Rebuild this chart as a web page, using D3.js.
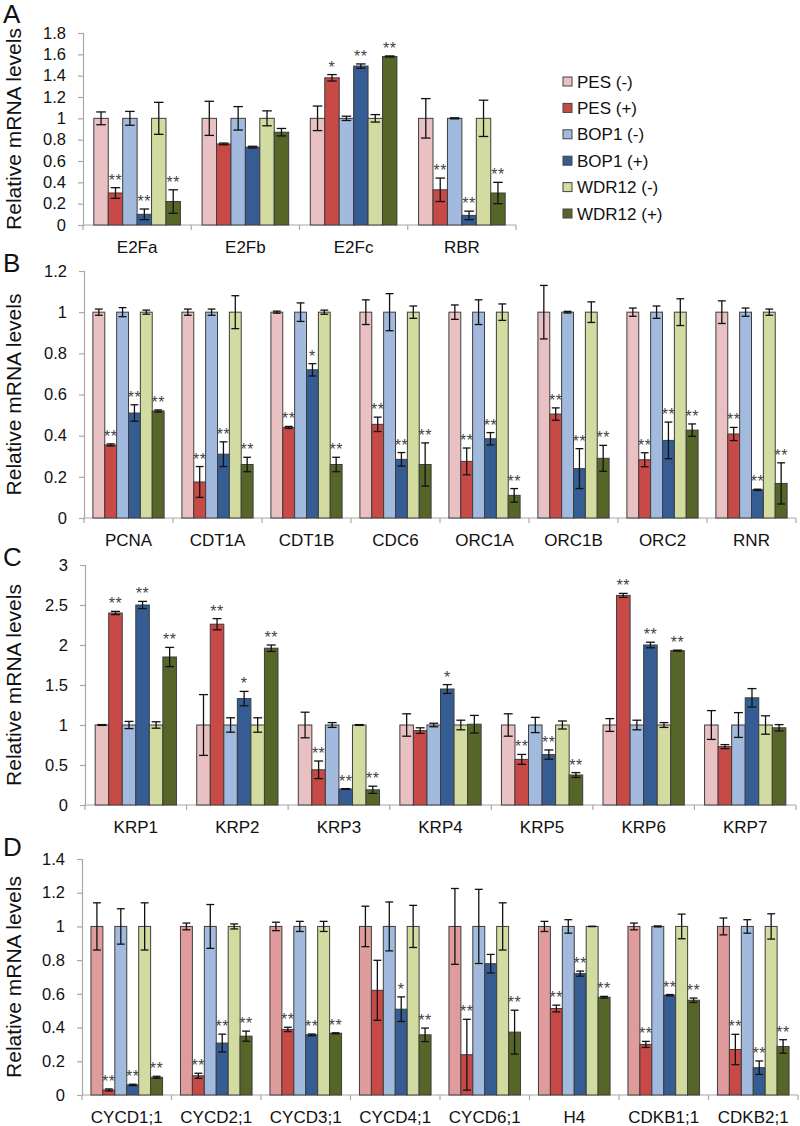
<!DOCTYPE html>
<html>
<head>
<meta charset="utf-8">
<script src="https://cdn.jsdelivr.net/npm/d3@7"></script>
<style>
  html, body { margin: 0; padding: 0; background: #fff; }
  svg { display: block; font-family: "Liberation Sans", Arial, Helvetica, sans-serif; }
</style>
</head>
<body>
<svg id="chart" width="800" height="1126"></svg>
<script>
// ---------- data ----------
const seriesNames = ["PES (-)", "PES (+)", "BOP1 (-)", "BOP1 (+)", "WDR12 (-)", "WDR12 (+)"];
const seriesColors = ["#e9c1c2", "#c84a47", "#a3badf", "#365d93", "#d3dca0", "#566628"];

// Panel A
const aCategories = ["E2Fa", "E2Fb", "E2Fc", "RBR"];
const aValues = [
  [1, 0.30, 1, 0.10, 1, 0.22],
  [1, 0.76, 1, 0.73, 1, 0.87],
  [1, 1.38, 1, 1.49, 1, 1.58],
  [1, 0.33, 1, 0.09, 1, 0.30]
];
const aErrors = [
  [0.06, 0.05, 0.065, 0.05, 0.15, 0.11],
  [0.16, 0.008, 0.11, 0.008, 0.07, 0.035],
  [0.115, 0.03, 0.02, 0.02, 0.035, 0.005],
  [0.185, 0.11, 0.005, 0.04, 0.17, 0.10]
];
const aSig = [
  ["", "**", "", "**", "", "**"],
  ["", "", "", "", "", ""],
  ["", "*", "", "**", "", "**"],
  ["", "**", "", "**", "", "**"]
];
const aTicks = ["0", "0.2", "0.4", "0.6", "0.8", "1", "1.2", "1.4", "1.6", "1.8"];

// Panel B
const bCategories = ["PCNA", "CDT1A", "CDT1B", "CDC6", "ORC1A", "ORC1B", "ORC2", "RNR"];
const bValues = [
  [1, 0.355, 1, 0.51, 1, 0.52],
  [1, 0.175, 1, 0.31, 1, 0.26],
  [1, 0.44, 1, 0.72, 1, 0.26],
  [1, 0.455, 1, 0.285, 1, 0.26],
  [1, 0.275, 1, 0.385, 1, 0.11],
  [1, 0.505, 1, 0.24, 1, 0.29],
  [1, 0.283, 1, 0.377, 1, 0.427],
  [1, 0.408, 1, 0.137, 1, 0.168]
];
const bErrors = [
  [0.015, 0.005, 0.022, 0.04, 0.01, 0.005],
  [0.015, 0.075, 0.015, 0.06, 0.08, 0.035],
  [0.005, 0.005, 0.045, 0.03, 0.01, 0.035],
  [0.06, 0.035, 0.09, 0.033, 0.03, 0.105],
  [0.035, 0.065, 0.06, 0.03, 0.04, 0.033],
  [0.13, 0.03, 0.004, 0.097, 0.05, 0.063],
  [0.02, 0.034, 0.03, 0.089, 0.065, 0.03],
  [0.055, 0.032, 0.02, 0.003, 0.015, 0.1]
];
const bSig = [
  ["", "**", "", "**", "", "**"],
  ["", "**", "", "**", "", "**"],
  ["", "**", "", "*", "", "**"],
  ["", "**", "", "**", "", "**"],
  ["", "**", "", "**", "", "**"],
  ["", "**", "", "**", "", "**"],
  ["", "**", "", "**", "", "**"],
  ["", "**", "", "**", "", "**"]
];
const bTicks = ["0", "0.2", "0.4", "0.6", "0.8", "1", "1.2"];

// Panel C
const cCategories = ["KRP1", "KRP2", "KRP3", "KRP4", "KRP5", "KRP6", "KRP7"];
const cValues = [
  [1, 2.40, 1, 2.50, 1, 1.85],
  [1, 2.26, 1, 1.33, 1, 1.96],
  [1, 0.44, 1, 0.20, 1, 0.19],
  [1, 0.93, 1, 1.45, 1, 1.01],
  [1, 0.57, 1, 0.63, 1, 0.375],
  [1, 2.62, 1, 2.00, 1, 1.93],
  [1, 0.73, 1, 1.34, 1, 0.965]
];
const cErrors = [
  [0.005, 0.02, 0.045, 0.045, 0.04, 0.12],
  [0.38, 0.07, 0.09, 0.09, 0.09, 0.04],
  [0.16, 0.11, 0.03, 0.005, 0.005, 0.045],
  [0.14, 0.035, 0.022, 0.055, 0.06, 0.11],
  [0.14, 0.062, 0.095, 0.058, 0.05, 0.03],
  [0.08, 0.025, 0.06, 0.035, 0.03, 0.006],
  [0.18, 0.025, 0.155, 0.115, 0.115, 0.04]
];
const cSig = [
  ["", "**", "", "**", "", "**"],
  ["", "**", "", "*", "", "**"],
  ["", "**", "", "**", "", "**"],
  ["", "", "", "*", "", ""],
  ["", "**", "", "**", "", "**"],
  ["", "**", "", "**", "", "**"],
  ["", "", "", "", "", ""]
];
const cTicks = ["0", "0.5", "1", "1.5", "2", "2.5", "3"];

// Panel D
const dCategories = ["CYCD1;1", "CYCD2;1", "CYCD3;1", "CYCD4;1", "CYCD6;1", "H4", "CDKB1;1", "CDKB2;1"];
const dValues = [
  [1, 0.03, 1, 0.06, 1, 0.105],
  [1, 0.114, 1, 0.308, 1, 0.349],
  [1, 0.389, 1, 0.357, 1, 0.366],
  [1, 0.621, 1, 0.509, 1, 0.357],
  [1, 0.239, 1, 0.779, 1, 0.373],
  [1, 0.513, 1, 0.72, 1, 0.58],
  [1, 0.30, 1, 0.592, 1, 0.562],
  [1, 0.27, 1, 0.162, 1, 0.288]
];
const dErrors = [
  [0.14, 0.006, 0.105, 0.004, 0.14, 0.006],
  [0.02, 0.015, 0.13, 0.053, 0.015, 0.03],
  [0.025, 0.013, 0.03, 0.005, 0.03, 0.003],
  [0.12, 0.178, 0.145, 0.073, 0.125, 0.04],
  [0.225, 0.21, 0.22, 0.055, 0.14, 0.13],
  [0.03, 0.02, 0.04, 0.015, 0.001, 0.005],
  [0.02, 0.018, 0.003, 0.004, 0.073, 0.013],
  [0.05, 0.09, 0.04, 0.04, 0.075, 0.04]
];
const dSig = [
  ["", "**", "", "**", "", "**"],
  ["", "**", "", "**", "", "**"],
  ["", "**", "", "**", "", "**"],
  ["", "", "", "*", "", "**"],
  ["", "**", "", "", "", "**"],
  ["", "**", "", "**", "", "**"],
  ["", "**", "", "**", "", "**"],
  ["", "**", "", "**", "", "**"]
];
const dTicks = ["0", "0.2", "0.4", "0.6", "0.8", "1", "1.2", "1.4"];

// ---------- layout ----------
const panels = [
  { letter: "A", cats: aCategories, vals: aValues, errs: aErrors, sig: aSig, ticks: aTicks,
    x0: 83, x1: 516, yTop: 33, yBot: 225, letterY: 23, colors: seriesColors },
  { letter: "B", cats: bCategories, vals: bValues, errs: bErrors, sig: bSig, ticks: bTicks,
    x0: 84, x1: 796, yTop: 271, yBot: 518, letterY: 272, colors: seriesColors },
  { letter: "C", cats: cCategories, vals: cValues, errs: cErrors, sig: cSig, ticks: cTicks,
    x0: 85, x1: 796, yTop: 565, yBot: 805, letterY: 566, colors: seriesColors },
  { letter: "D", cats: dCategories, vals: dValues, errs: dErrors, sig: dSig, ticks: dTicks,
    x0: 82, x1: 798, yTop: 859, yBot: 1095, letterY: 856,
    colors: ["#e09c9c"].concat(seriesColors.slice(1)) }
];

const svg = d3.select("#chart");
const axisColor = "#a8a8a8";

panels.forEach(p => {
  const g = svg.append("g");
  const tickVals = p.ticks.map(Number);
  const yMax = d3.max(tickVals);
  const y = d3.scaleLinear().domain([0, yMax]).range([p.yBot, p.yTop]);
  const x = d3.scaleBand().domain(p.cats).range([p.x0, p.x1]).padding(0);
  const xs = d3.scaleBand().domain(d3.range(seriesNames.length))
    .range([0, x.bandwidth()]).paddingInner(0).paddingOuter(0.75);
  const bw = xs.bandwidth();

  // panel letter
  g.append("text").attr("x", 3).attr("y", p.letterY)
    .attr("font-size", 26).attr("fill", "#111").text(p.letter);

  // y axis
  const yAxis = d3.axisLeft(y).tickValues(tickVals).tickSize(5).tickPadding(12)
    .tickFormat((d, i) => p.ticks[i]);
  const ya = g.append("g").attr("transform", `translate(${p.x0},0)`).call(yAxis);
  ya.select(".domain").attr("stroke", axisColor).attr("stroke-width", 1.2);
  ya.selectAll(".tick line").attr("stroke", axisColor).attr("stroke-width", 1.2);
  ya.selectAll(".tick text").attr("font-size", 16.5).attr("fill", "#111")
    .attr("font-family", "Liberation Sans, Arial, sans-serif");

  // x axis
  const xa = g.append("g").attr("transform", `translate(0,${p.yBot})`);
  xa.append("line").attr("x1", p.x0).attr("x2", p.x1).attr("y1", 0).attr("y2", 0)
    .attr("stroke", axisColor).attr("stroke-width", 1.2);
  const bounds = p.cats.map(c => x(c)).concat([p.x1]);
  xa.selectAll("line.bt").data(bounds).join("line").attr("class", "bt")
    .attr("x1", d => d).attr("x2", d => d).attr("y1", 0).attr("y2", 5)
    .attr("stroke", axisColor).attr("stroke-width", 1.2);
  xa.selectAll("text").data(p.cats).join("text")
    .attr("x", d => x(d) + x.bandwidth() / 2).attr("y", 28)
    .attr("text-anchor", "middle").attr("font-size", 17).attr("fill", "#111")
    .text(d => d);

  // y title
  g.append("text")
    .attr("transform", `translate(21,${(p.yTop + p.yBot) / 2}) rotate(-90)`)
    .attr("text-anchor", "middle").attr("font-size", 21).attr("fill", "#111")
    .text("Relative mRNA levels");

  // bars
  p.cats.forEach((cat, ci) => {
    const cg = g.append("g").attr("transform", `translate(${x(cat)},0)`);
    const rows = seriesNames.map((s, si) => ({
      si, v: p.vals[ci][si], e: p.errs[ci][si], s: p.sig[ci][si]
    }));
    cg.selectAll("rect").data(rows).join("rect")
      .attr("x", d => xs(d.si)).attr("width", bw)
      .attr("y", d => y(d.v)).attr("height", d => y(0) - y(d.v))
      .attr("fill", d => p.colors[d.si])
      .attr("stroke", "#3d3d3d").attr("stroke-width", 1);
    const cap = bw * 0.33;
    rows.forEach(d => {
      const cx = xs(d.si) + bw / 2;
      const t = y(d.v + d.e), b = y(Math.max(0, d.v - d.e));
      cg.append("line").attr("x1", cx).attr("x2", cx).attr("y1", t).attr("y2", b)
        .attr("stroke", "#111").attr("stroke-width", 1.3);
      [t, b].forEach(yy => cg.append("line")
        .attr("x1", cx - cap).attr("x2", cx + cap).attr("y1", yy).attr("y2", yy)
        .attr("stroke", "#111").attr("stroke-width", 1.3));
      if (d.s) {
        cg.append("text").attr("x", cx).attr("y", t - 2)
          .attr("text-anchor", "middle").attr("font-size", 16).attr("fill", "#444")
          .attr("letter-spacing", 0.5).text(d.s);
      }
    });
  });
});

// legend (in panel A)
const lg = svg.append("g").attr("transform", "translate(563,0)");
const legY = d3.scalePoint().domain(seriesNames).range([81.5, 213.5]);
seriesNames.forEach((s, i) => {
  lg.append("rect").attr("x", 0).attr("y", legY(s) - 4.5).attr("width", 9).attr("height", 9)
    .attr("fill", seriesColors[i]).attr("stroke", "#444").attr("stroke-width", 1);
  lg.append("text").attr("x", 14).attr("y", legY(s) + 6)
    .attr("font-size", 17).attr("fill", "#111").text(s);
});
</script>
</body>
</html>
